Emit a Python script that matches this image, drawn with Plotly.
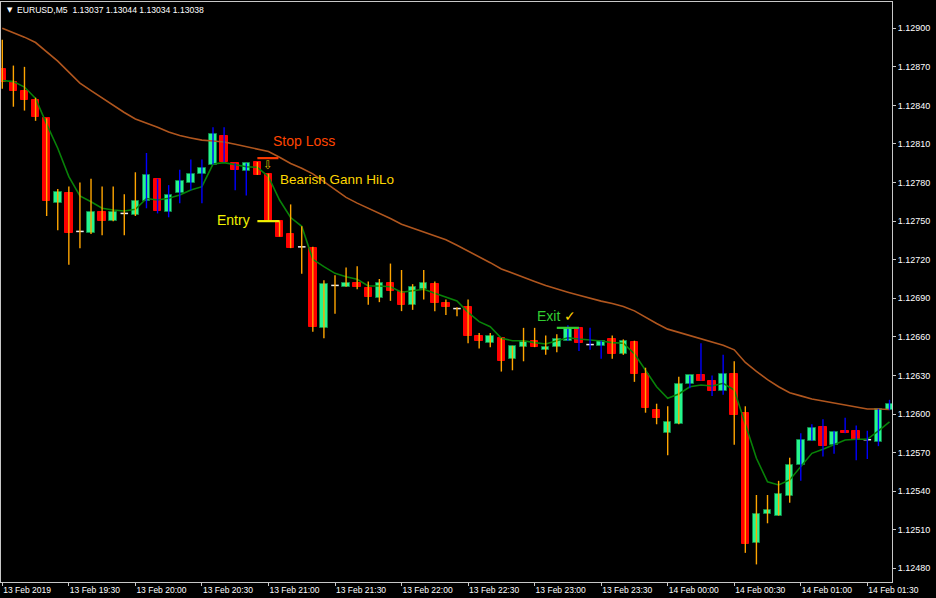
import plotly.graph_objects as go

# ---------------- data (5-minute EURUSD candles, 13 Feb 19:00 .. 14 Feb 01:40) ----------------
candle_index = list(range(81))

opens = [1.12868, 1.12858, 1.12851, 1.12844, 1.12830, 1.12764, 1.12772, 1.12742, 1.12741, 1.12757,
         1.12750, 1.12756, 1.12755, 1.12766, 1.12783, 1.12757, 1.12772, 1.12780, 1.12787, 1.12794,
         1.12816, 1.12795, 1.12789, 1.12796, 1.12787, 1.12750, 1.12740, 1.12730, 1.12729, 1.12667,
         1.12700, 1.12699, 1.12702, 1.12698, 1.12690, 1.12702, 1.12695, 1.12685, 1.12697, 1.12701,
         1.12686, 1.12682, 1.12683, 1.12661, 1.12655, 1.12659, 1.12643, 1.12652, 1.12657, 1.12650,
         1.12652, 1.12657, 1.12667, 1.12654, 1.12653, 1.12658, 1.12647, 1.12656, 1.12631, 1.12603,
         1.12585, 1.12592, 1.12623, 1.12630, 1.12626, 1.12618, 1.12631, 1.12601, 1.12500, 1.12522,
         1.12521, 1.12536, 1.12560, 1.12579, 1.12590, 1.12576, 1.12587, 1.12587, 1.12580, 1.12578,
         1.12603]
highs = [1.12891, 1.12871, 1.12870, 1.12846, 1.12830, 1.12775, 1.12777, 1.12780, 1.12783, 1.12777,
         1.12777, 1.12771, 1.12788, 1.12803, 1.12783, 1.12778, 1.12790, 1.12798, 1.12798, 1.12823,
         1.12823, 1.12795, 1.12795, 1.12796, 1.12787, 1.12750, 1.12763, 1.12746, 1.12730, 1.12704,
         1.12708, 1.12714, 1.12715, 1.12703, 1.12705, 1.12717, 1.12712, 1.12701, 1.12712, 1.12703,
         1.12689, 1.12683, 1.12689, 1.12663, 1.12663, 1.12659, 1.12653, 1.12667, 1.12667, 1.12661,
         1.12662, 1.12669, 1.12667, 1.12667, 1.12657, 1.12661, 1.12658, 1.12657, 1.12636, 1.12608,
         1.12606, 1.12629, 1.12630, 1.12655, 1.12630, 1.12646, 1.12641, 1.12606, 1.12537, 1.12537,
         1.12548, 1.12566, 1.12585, 1.12592, 1.12596, 1.12587, 1.12597, 1.12591, 1.12587, 1.12604,
         1.12611]
lows = [1.12853, 1.12839, 1.12836, 1.12828, 1.12754, 1.12743, 1.12716, 1.12729, 1.12740, 1.12739,
        1.12750, 1.12739, 1.12754, 1.12760, 1.12756, 1.12753, 1.12764, 1.12774, 1.12764, 1.12794,
        1.12796, 1.12774, 1.12770, 1.12786, 1.12750, 1.12738, 1.12729, 1.12709, 1.12664, 1.12659,
        1.12678, 1.12699, 1.12697, 1.12685, 1.12687, 1.12688, 1.12680, 1.12681, 1.12689, 1.12680,
        1.12677, 1.12676, 1.12655, 1.12651, 1.12652, 1.12633, 1.12634, 1.12641, 1.12652, 1.12646,
        1.12648, 1.12657, 1.12649, 1.12650, 1.12643, 1.12643, 1.12646, 1.12625, 1.12601, 1.12592,
        1.12568, 1.12592, 1.12620, 1.12626, 1.12614, 1.12615, 1.12576, 1.12492, 1.12483, 1.12515,
        1.12521, 1.12531, 1.12548, 1.12579, 1.12567, 1.12569, 1.12585, 1.12564, 1.12565, 1.12575,
        1.12603]
closes = [1.12858, 1.12851, 1.12844, 1.12831, 1.12766, 1.12773, 1.12741, 1.12742, 1.12757, 1.12750,
          1.12757, 1.12756, 1.12766, 1.12786, 1.12758, 1.12770, 1.12781, 1.12787, 1.12791, 1.12818,
          1.12796, 1.12790, 1.12795, 1.12786, 1.12750, 1.12738, 1.12729, 1.12730, 1.12668, 1.12701,
          1.12700, 1.12702, 1.12699, 1.12691, 1.12702, 1.12696, 1.12685, 1.12699, 1.12702, 1.12686,
          1.12683, 1.12682, 1.12661, 1.12657, 1.12661, 1.12641, 1.12653, 1.12656, 1.12652, 1.12652,
          1.12658, 1.12667, 1.12655, 1.12654, 1.12657, 1.12647, 1.12657, 1.12631, 1.12605, 1.12597,
          1.12594, 1.12623, 1.12630, 1.12626, 1.12618, 1.12631, 1.12599, 1.12499, 1.12522, 1.12525,
          1.12538, 1.12560, 1.12580, 1.12589, 1.12575, 1.12586, 1.12585, 1.12580, 1.12580, 1.12604,
          1.12608]
# Gann HiLo trend state per candle: "bear" (orange bar) / "bull" (blue bar)
hilo_state = (["bear"] * 13 + ["bull"] * 10 + ["bear"] * 28 + ["bull"] * 4 +
              ["bear"] * 7 + ["bull"] * 4 + ["bear"] * 6 + ["bull"] * 9)

ma_slow = [1.129001, 1.128966, 1.128931, 1.128889, 1.128817, 1.128745, 1.128659, 1.128573, 1.128515, 1.128457,
           1.128401, 1.128345, 1.128294, 1.128265, 1.128230, 1.128193, 1.128166, 1.128147, 1.128130, 1.128123,
           1.128116, 1.128098, 1.128080, 1.128061, 1.128042, 1.127997, 1.127948, 1.127911, 1.127868, 1.127808,
           1.127746, 1.127685, 1.127640, 1.127601, 1.127563, 1.127520, 1.127476, 1.127445, 1.127416, 1.127385,
           1.127355, 1.127312, 1.127269, 1.127226, 1.127177, 1.127128, 1.127094, 1.127063, 1.127031, 1.126999,
           1.126970, 1.126947, 1.126923, 1.126898, 1.126878, 1.126860, 1.126836, 1.126802, 1.126751, 1.126704,
           1.126660, 1.126635, 1.126613, 1.126587, 1.126560, 1.126535, 1.126499, 1.126401, 1.126331, 1.126267,
           1.126212, 1.126166, 1.126141, 1.126117, 1.126101, 1.126086, 1.126072, 1.126054, 1.126039, 1.126039,
           1.126035]
ma_fast = [1.128594, 1.128585, 1.128543, 1.128455, 1.128254, 1.128067, 1.127846, 1.127696, 1.127651, 1.127600,
           1.127587, 1.127579, 1.127592, 1.127676, 1.127664, 1.127678, 1.127703, 1.127742, 1.127768, 1.127944,
           1.127955, 1.127937, 1.127923, 1.127919, 1.127846, 1.127664, 1.127528, 1.127460, 1.127203, 1.127146,
           1.127094, 1.127068, 1.127048, 1.126996, 1.126996, 1.126990, 1.126947, 1.126959, 1.126970, 1.126939,
           1.126912, 1.126879, 1.126791, 1.126718, 1.126679, 1.126589, 1.126570, 1.126570, 1.126555, 1.126544,
           1.126570, 1.126593, 1.126583, 1.126576, 1.126568, 1.126555, 1.126550, 1.126468, 1.126342, 1.126212,
           1.126122, 1.126156, 1.126212, 1.126226, 1.126218, 1.126239, 1.126187, 1.125914, 1.125656, 1.125473,
           1.125448, 1.125487, 1.125590, 1.125694, 1.125725, 1.125759, 1.125798, 1.125803, 1.125803, 1.125868,
           1.125938]

time_tick_index = [0, 6, 12, 18, 24, 30, 36, 42, 48, 54, 60, 66, 72, 78]
time_tick_labels = ["13 Feb 2019", "13 Feb 19:30", "13 Feb 20:00", "13 Feb 20:30", "13 Feb 21:00",
                    "13 Feb 21:30", "13 Feb 22:00", "13 Feb 22:30", "13 Feb 23:00", "13 Feb 23:30",
                    "14 Feb 00:00", "14 Feb 00:30", "14 Feb 01:00", "14 Feb 01:30"]
price_ticks = [1.12480, 1.12510, 1.12540, 1.12570, 1.12600, 1.12630, 1.12660, 1.12690,
               1.12720, 1.12750, 1.12780, 1.12810, 1.12840, 1.12870, 1.12900]

# trade levels: name, price, first candle, last candle
level_names = ["Stop Loss", "Entry", "Exit"]
level_prices = [1.12799, 1.12750, 1.12667]
level_from = [23.0, 23.0, 50.0]
level_to = [24.9, 25.0, 52.0]
signal_candle = 24
signal_price = 1.12794

title_text = "EURUSD,M5  1.13037 1.13044 1.13034 1.13038"

# ---------------- styles ----------------
BULL = "#25F58E"
BULL_EDGE = "#0E8A48"
BEAR = "#FF0000"
WICK = {"bear": "#FFA500", "bull": "#0000FF"}
FONT = "Liberation Sans"

fig = go.Figure()

# candle bodies
bx, bbase, bh, bcol, bedge = [], [], [], [], []
dx, dy = [], []
for i, o, c in zip(candle_index, opens, closes):
    if o == c:
        dx += [i - 0.34, i + 0.34, None]
        dy += [o, o, None]
        continue
    bx.append(i)
    bbase.append(min(o, c))
    bh.append(abs(c - o))
    up = c > o
    bcol.append(BULL if up else BEAR)
    bedge.append(BULL_EDGE if up else BEAR)

fig.add_trace(go.Bar(x=bx, y=bh, base=bbase, width=0.68,
                     marker=dict(color=bcol, line=dict(color=bedge, width=1)),
                     hoverinfo="skip"))

# doji bodies
fig.add_trace(go.Scatter(x=dx, y=dy, mode="lines", line=dict(color="#F0F0F0", width=1.5),
                         hoverinfo="skip"))

# moving averages
fig.add_trace(go.Scatter(x=candle_index, y=ma_slow, mode="lines",
                         line=dict(color="#B0561E", width=1.6), hoverinfo="skip"))
fig.add_trace(go.Scatter(x=candle_index, y=ma_fast, mode="lines",
                         line=dict(color="#088208", width=1.6), hoverinfo="skip"))

# Gann HiLo high-low bars (drawn over the candles)
for state in ["bear", "bull"]:
    wx, wy = [], []
    for i, h, l, s in zip(candle_index, highs, lows, hilo_state):
        if s == state:
            wx += [i, i, None]
            wy += [l, h, None]
    fig.add_trace(go.Scatter(x=wx, y=wy, mode="lines",
                             line=dict(color=WICK[state], width=1.4), hoverinfo="skip"))

# trade level lines
level_colors = {"Stop Loss": "#FF3A00", "Entry": "#F2F200", "Exit": "#32CD32"}
for name, p, a, b in zip(level_names, level_prices, level_from, level_to):
    fig.add_trace(go.Scatter(x=[a, b], y=[p, p], mode="lines",
                             line=dict(color=level_colors[name], width=2.2), hoverinfo="skip"))

# annotations
fig.add_annotation(x=24.2, y=1.12812, xref="x", yref="y", text="Stop Loss", showarrow=False,
                   xanchor="left", yanchor="middle", font=dict(family=FONT, size=14, color="#FF4500"))
fig.add_annotation(x=24.85, y=1.12782, xref="x", yref="y", text="Bearish Gann HiLo", showarrow=False,
                   xanchor="left", yanchor="middle", font=dict(family=FONT, size=13.5, color="#FFD700"))
fig.add_annotation(x=22.55, y=1.12751, xref="x", yref="y", text="Entry", showarrow=False,
                   xanchor="right", yanchor="middle", font=dict(family=FONT, size=14, color="#F2F200"))
fig.add_annotation(x=48.0, y=1.12676, xref="x", yref="y",
                   text="Exit <span style='color:#FFD700'>\u2713</span>", showarrow=False,
                   xanchor="left", yanchor="middle", font=dict(family=FONT, size=14, color="#32CD32"))
fig.add_annotation(x=signal_candle, y=signal_price, xref="x", yref="y", text="\u21e9", showarrow=False,
                   xanchor="center", yanchor="middle", font=dict(family="DejaVu Sans", size=12, color="#D9B800"))

# chart title
fig.add_annotation(x=0.004, y=0.986, xref="paper", yref="paper", text="\u25bc", showarrow=False,
                   xanchor="left", yanchor="middle", font=dict(family="DejaVu Sans", size=7, color="white"))
fig.add_annotation(x=0.016, y=0.986, xref="paper", yref="paper", text=title_text, showarrow=False,
                   xanchor="left", yanchor="middle", font=dict(family=FONT, size=8.6, color="white"))

fig.update_layout(
    width=936, height=598,
    margin=dict(l=1, r=44, t=2, b=16, autoexpand=False),
    paper_bgcolor="black", plot_bgcolor="black",
    showlegend=False, bargap=0,
    xaxis=dict(range=[-0.117, 80.225], showgrid=False, zeroline=False,
               tickmode="array", tickvals=time_tick_index, ticktext=time_tick_labels,
               ticks="outside", ticklen=3, tickcolor="#C8C8C8",
               ticklabelposition="outside right",
               tickfont=dict(family=FONT, size=8.5, color="white"),
               showline=True, linecolor="#C8C8C8", linewidth=1, mirror=True),
    yaxis=dict(range=[1.1246933, 1.1292044], side="right", showgrid=False, zeroline=False,
               tickmode="array", tickvals=price_ticks, tickformat=".5f",
               ticks="outside", ticklen=3, tickcolor="#C8C8C8",
               tickfont=dict(family=FONT, size=9, color="white"),
               showline=True, linecolor="#C8C8C8", linewidth=1, mirror=True),
)

fig.write_html("out.html", config={"displayModeBar": False},
               post_script="document.body.style.margin='0';document.body.style.background='black';")
